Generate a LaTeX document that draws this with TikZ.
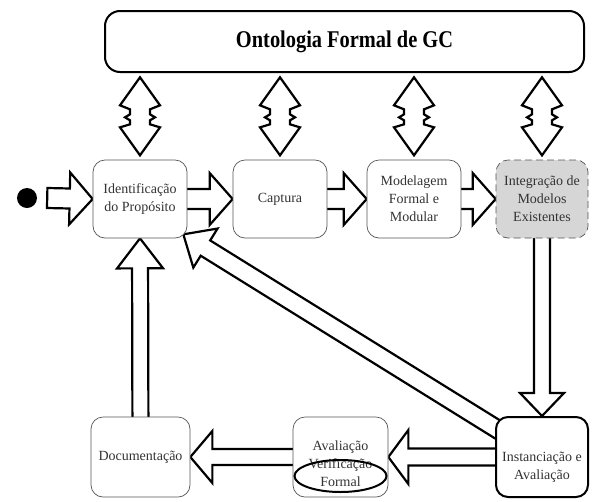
\documentclass[tikz,border=0pt]{standalone}
\usepackage{fontspec}
\setmainfont{Liberation Serif}
\newfontfamily\titlefont[FakeStretch=0.85]{Liberation Serif}
\usepackage{xcolor}
\usetikzlibrary{calc,backgrounds}
\definecolor{ink}{HTML}{333333}
\definecolor{rim}{HTML}{555555}
\definecolor{shade}{HTML}{D6D6D6}
% hollow block arrow: shaft half width, head half width, head length, from, to
\newcommand{\fatarrow}[5]{%
  \coordinate (fa-a) at (#4);
  \coordinate (fa-b) at (#5);
  \coordinate (fa-c) at ($(fa-b)!#3!(fa-a)$);
  \draw[fat] ($(fa-a)!#1!90:(fa-b)$) -- ($(fa-c)!#1!90:(fa-b)$) -- ($(fa-c)!#2!90:(fa-b)$)
    -- (fa-b) -- ($(fa-c)!#2!-90:(fa-b)$) -- ($(fa-c)!#1!-90:(fa-b)$)
    -- ($(fa-a)!#1!-90:(fa-b)$) -- cycle;}
\tikzset{
  stage/.style={rectangle, rounded corners=12pt, draw=rim, line width=0.7pt, fill=white,
                align=center, text=ink, font=\fontsize{14}{18}\selectfont,
                minimum width=94pt, minimum height=78pt, inner sep=2pt},
  keystage/.style={stage, draw=black, line width=2pt},
  reusestage/.style={stage, dash pattern=on 7pt off 4pt, fill=shade},
  ontobox/.style={rectangle, rounded corners=15pt, draw=black, line width=2pt, fill=white,
                  minimum width=479pt, minimum height=61pt,
                  font=\titlefont\bfseries\fontsize{24}{28}\selectfont},
  fat/.style={draw=black, line width=2.2pt, fill=white, line join=miter},
  pics/dblarrow/.style={code={
    \draw[fat] (0,-39) -- (20,-11) -- (10,-7) -- (10,-2) -- (15,1) -- (10,4) -- (10,8)
      -- (20,11) -- (0,39) -- (-20,11) -- (-10,8) -- (-10,4) -- (-15,1) -- (-10,-2)
      -- (-10,-7) -- (-20,-11) -- cycle;}},
}
\begin{document}
\begin{tikzpicture}[x=1pt, y=-1pt]
\useasboundingbox (0,0) rectangle (596,501);
\node[ontobox] (onto) at (344.5,41.5) {Ontologia Formal de GC};

\node[circle, fill=black, minimum size=20pt, inner sep=0pt] (start) at (27,198) {};
\node[stage] (ident) at (140,199) {Identificação\\do Propósito};
\node[stage] (capt) at (280,199) {Captura};
\node[stage] (model) at (414,199) {Modelagem\\Formal e\\Modular};
\node[reusestage, minimum width=92pt] (integ) at (542,199) {Integração de\\Modelos\\Existentes};

\node[keystage, minimum width=92pt, minimum height=80pt] (inst) at (542,457)
  {\rule{0pt}{30pt}Instanciação e\\Avaliação};
\node[stage, minimum width=95pt, minimum height=80pt] (aval) at (340.5,457)
  {\rule{0pt}{24pt}Avaliação\\Verificação\\Formal};
\node[stage, minimum width=99pt, minimum height=80pt] (doc) at (140.5,457) {Documentação};
\draw[line width=2pt] ($(aval.center)+(0,19)$) ellipse [x radius=46pt, y radius=16pt];

\foreach \n in {ident,capt,model,integ}
  \pic at ($(\n.north)!0.5!(\n.north |- onto.south)$) {dblarrow};

\begin{scope}[on background layer]
  \fatarrow{10pt}{26pt}{23pt}{$(start.east)+(10,0)$}{ident.west}
  \fatarrow{10pt}{26pt}{23pt}{ident.center}{capt.west}
  \fatarrow{10pt}{26pt}{23pt}{capt.center}{model.west}
  \fatarrow{10pt}{26pt}{23pt}{model.center}{integ.west}
  \fatarrow{8pt}{22pt}{23pt}{integ.center}{inst.north}
  \fatarrow{8.5pt}{27pt}{20pt}{inst.center}{aval.east}
  \fatarrow{8pt}{26pt}{22pt}{aval.center}{doc.east}
  \fatarrow{8pt}{23pt}{30pt}{doc.center}{ident.south}
  \fatarrow{9pt}{23pt}{26pt}{inst.center}{$(ident.south east)+(-4,-4)$}
\end{scope}
\end{tikzpicture}
\end{document}
